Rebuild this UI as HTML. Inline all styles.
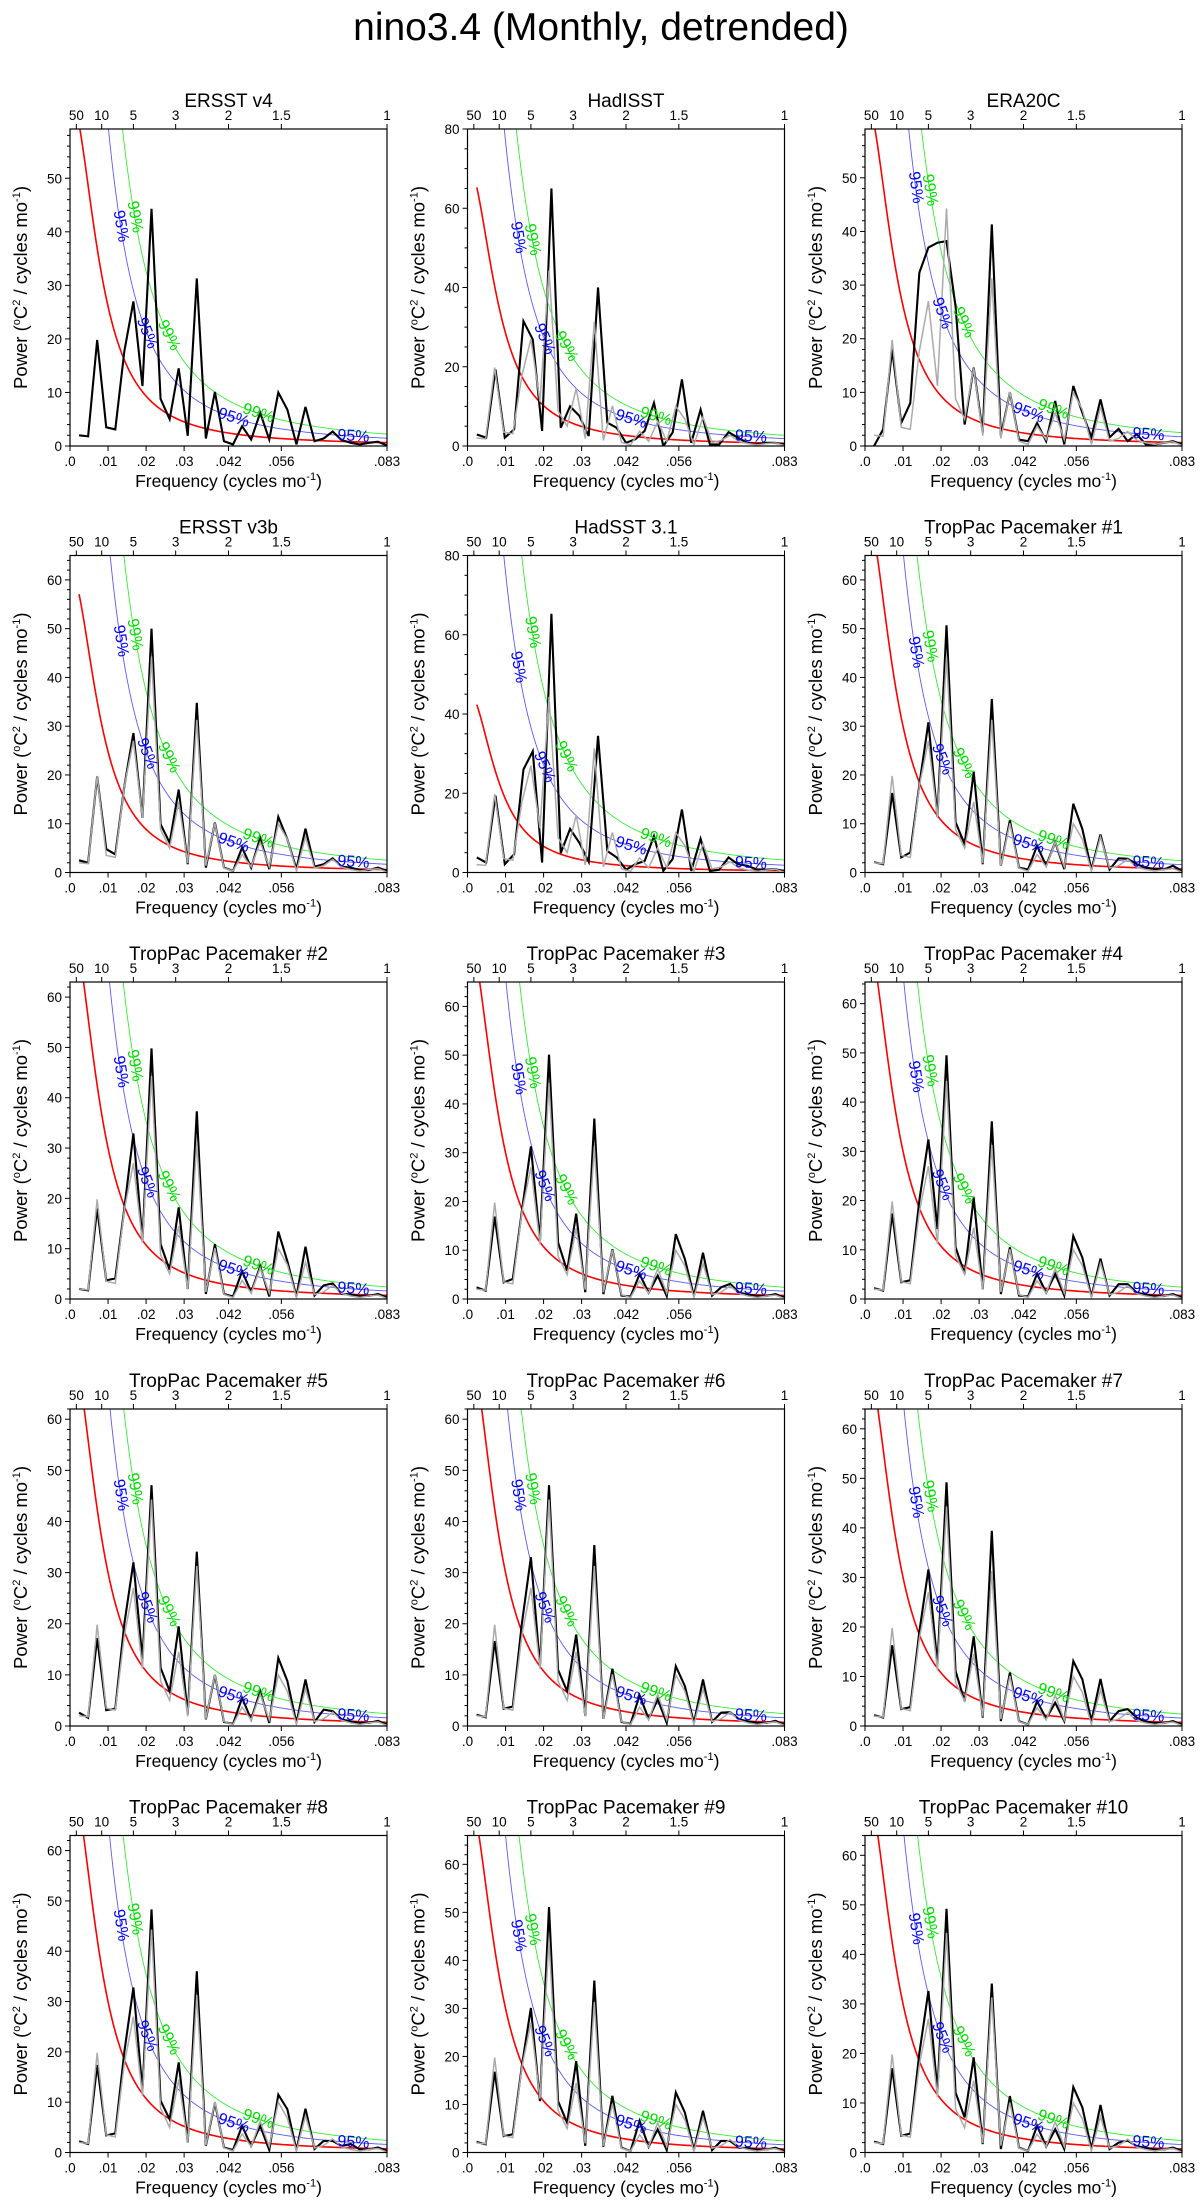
<!DOCTYPE html>
<html><head><meta charset="utf-8"><title>nino3.4 spectra</title>
<style>
html,body{margin:0;padding:0;background:#fff;}
svg{display:block;font-family:"Liberation Sans","DejaVu Sans",sans-serif;}
</style></head>
<body>
<svg id="chart" width="1202" height="2211" viewBox="0 0 1202 2211" xmlns="http://www.w3.org/2000/svg">
<rect width="1202" height="2211" fill="#fff"/>
<text x="601" y="40" text-anchor="middle" font-size="39">nino3.4 (Monthly, detrended)</text>
</svg>
<script>
const titles = ["ERSST v4","HadISST","ERA20C","ERSST v3b","HadSST 3.1","TropPac Pacemaker #1","TropPac Pacemaker #2","TropPac Pacemaker #3","TropPac Pacemaker #4","TropPac Pacemaker #5","TropPac Pacemaker #6","TropPac Pacemaker #7","TropPac Pacemaker #8","TropPac Pacemaker #9","TropPac Pacemaker #10"];
const yMaxes = [59.2,80,59.1,65,80,65,63,65,64.4,62,62,64,63,66,64];
const nPoints = [35,34,35,35,34,35,35,35,35,35,35,35,35,35,35];
const redFirst = [60,65.5,60,57,42.5,69,69,69,69,69,69,69,69,69,69];
const mult95 = [2.3,2.7,2.7,2.8,4.1,2.2,2.2,2.2,2.2,2.2,2.2,2.2,2.2,2.2,2.2];
const mult99 = [3.5,3.9,3.9,4.2,7.0,3.3,3.3,3.3,3.3,3.3,3.3,3.3,3.3,3.3,3.3];
const refSeries = [2.0,1.8,19.8,3.5,3.1,17.7,27,11.2,44.3,8.8,5,14.5,1.9,31.3,1.4,10.1,0.9,0.3,3.7,1.2,6.2,1.2,10,6.8,0.3,7.3,0.9,1.4,2.7,1.1,0.6,0.3,0.6,0.8,0.1];
const sErsstV4 = refSeries;
const sHadISST = [2.9,2.1,19.3,2.1,4.2,31.5,26.9,3.8,65,4.6,10,7.6,2.5,40,5.9,4.6,0.8,1.7,3.8,10.9,0,3.4,16.8,0.8,9.2,0.4,0.4,3.5,2.1,0.8,0.4,0.8,0.8,0.4];
const sEra20c = [0,3.1,18,4.3,8,32.3,37,37.9,38.2,26,4,14.6,2.5,41.3,1.9,10,1.2,0.9,4.3,0.9,8.4,0.3,11.2,6.2,1.6,8.7,1.6,3.2,0.9,2.2,0.3,0.3,0.6,0.9,0.3];
const sErsstV3b = [2.5,2.0,19.7,4.8,3.7,17.7,28.6,11.2,50,9.9,6.1,17,1.7,34.8,1.0,10.2,1,0.3,5.1,1,7.1,0.7,11.4,6.8,0.7,9,1.2,1.7,2.9,1.2,1,0.5,0.5,1,0.3];
const sHadSST = [3.8,2.5,19.4,2.1,4.6,26,30.6,2.5,65.3,4.9,11,7.5,2.7,34.5,5.4,3.8,0.7,2.1,2.9,9.2,0.4,3.4,15.9,0.4,8.5,0.4,0.7,3.8,2.1,1.7,0.8,0.7,0.8,0.4];
const sPM1 = [2.1,1.7,16.3,3.1,4.1,18,30.8,11.4,50.7,10.3,5.8,20.6,1.7,35.6,1.4,10.7,1,0.6,5.5,1.4,6.2,0.7,14.1,8.9,0.6,7.8,0.6,2.9,2.8,1.7,1,0.7,0.6,1.4,0.3];
const sPM2 = [2,1.7,18,3.7,4.1,18,32.9,11.6,49.8,10.9,5.8,18.2,2,37.3,1,10.9,1,0.5,5.5,1.4,6.5,0.5,13.4,7.5,0.5,10.4,0.7,2.7,3.1,1,0.9,0.6,0.6,1,0.3];
const sPM3 = [2.4,1.7,16.9,3.4,4.1,18,31.3,11.9,50.1,11.6,5.8,17.5,1.4,37,1,10.2,0.7,0.5,5.1,1.3,4.8,0.6,13.3,8.2,0.6,9.5,0.7,2.4,3.1,1.3,0.9,0.6,0.6,1,0.3];
const sPM4 = [2.2,1.7,17.4,3.4,3.8,20,32.4,14.2,49.5,10.5,5.1,20.6,2,36.1,1,10.5,0.7,0.5,5.1,1.3,5.1,0.7,12.8,8.4,0.5,8.2,0.7,3,3,1.3,0.9,0.6,0.6,1,0.3];
const sPM5 = [2.6,1.6,17.2,3.1,3.4,20,32,13,47.1,11.4,6.8,19.5,2.3,34.1,1.3,10,0.8,0.4,5.5,1.3,6.8,0.6,13.3,8.8,0.6,9.1,0.8,3.2,2.9,1.3,0.9,0.6,0.6,1,0.3];
const sPM6 = [2.2,1.7,16.6,3.4,3.8,20,33,11.7,47.1,11,6.8,17.9,2,35.4,1.4,11.2,0.8,0.4,6,1.4,5.2,0.6,11.7,7.8,0.6,9.1,0.8,2.6,2.7,1.3,0.9,0.6,0.6,1,0.3];
const sPM7 = [2.2,1.7,16.3,3.4,3.8,19,31.6,12.4,49.2,11.1,5,18.1,1.7,39.4,1,10.8,1,0.3,5,1.5,4.7,1,13.1,9.4,1,9.5,1,3,3.4,1.7,0.9,0.6,0.6,1,0.3];
const sPM8 = [2.2,1.7,17.4,3.4,3.8,20,32.8,12.3,48.3,10.3,6.6,17.9,2,36,1.3,9.9,1,0.5,5.3,1.3,5.3,0.5,11.5,8.6,0.5,8.7,0.7,2.3,2.3,1.3,1.7,0.6,0.6,1,0.3];
const sPM9 = [2.2,1.7,16.8,3.4,3.8,18,30.1,10.7,51.1,10.7,6.2,19,1.4,35.8,1.2,11.8,1,0.3,6.6,1.2,4.8,0.5,12.5,8.3,0.5,8.7,0.5,2.4,2.4,1,0.9,0.6,0.6,1,0.3];
const sPM10 = [2.2,1.7,17,3.4,3.8,20,32.6,12.4,49.2,12.1,7.1,19.2,1.7,34.1,0.7,11.4,1,0.3,5.4,1.2,4.7,0.7,13.2,9.1,0.7,9.6,0.7,2,2.4,1.3,0.9,0.6,0.6,1,0.3];
const seriesList = [sErsstV4,sHadISST,sEra20c,sErsstV3b,sHadSST,sPM1,sPM2,sPM3,sPM4,sPM5,sPM6,sPM7,sPM8,sPM9,sPM10];
const showRef = [false,true,true,true,true,true,true,true,true,true,true,true,true,true,true];
const xTickVals = [0,0.01,0.02,0.03,1/24,1/18,1/12];
const xTickLabels = [".0",".01",".02",".03",".042",".056",".083"];
const periodVals = [50,10,5,3,2,1.5,1];
const periodLabels = ["50","10","5","3","2","1.5","1"];
const label95Freqs = [0.0133,0.0202,0.043,0.0745];
const label99Freqs = [0.017,0.0259,0.0495];

const NS = "http://www.w3.org/2000/svg";
const svg = document.getElementById("chart");
const FMAX = 1/12, PW = 317, PH = 317;
const colX = [70,467.5,865];
const rowY = [129,555.5,982,1409,1835.5];
function mk(tag, attrs, parent){const e=document.createElementNS(NS,tag);for(const k in attrs)e.setAttribute(k,attrs[k]);(parent||svg).appendChild(e);return e;}
function D(f){return 0.0025+1.9*(1-Math.cos(2*Math.PI*f));}
function redNoise(f,rf){return rf*D(0.0024)/D(f);}

titles.forEach((title,i)=>{
  const x0 = colX[i%3], y0 = rowY[Math.floor(i/3)];
  const ymax = yMaxes[i];
  const xs = f => x0 + f/FMAX*PW;
  const ys = v => y0 + PH - v/ymax*PH;
  const g = mk("g",{});
  
  
  const clipId = "clip"+i;
  const cp = mk("clipPath",{id:clipId},g);
  mk("rect",{x:x0,y:y0,width:PW,height:PH},cp);
  const plot = mk("g",{"clip-path":"url(#"+clipId+")"},g);
  
  
  const N = nPoints[i], df = FMAX/N;
  const curveDefs = [[1,"#ff0000",1.6,"red-noise-curve"],[mult95[i],"#5a5aff",0.9,"conf-95-curve"],[mult99[i],"#33ee33",0.9,"conf-99-curve"]];
  curveDefs.forEach(cd=>{
    let d="";
    for(let j=0;j<=200;j++){const f=df+(FMAX-df)*j/200;const v=redNoise(f,redFirst[i])*cd[0];d+=(j?"L":"M")+xs(f).toFixed(2)+","+Math.max(ys(v),y0-50).toFixed(2);}
    const p = mk("path",{d:d,fill:"none",stroke:cd[1],"stroke-width":cd[2]},plot);
    
    
  });
  const data = seriesList[i];
  let d1=""; data.forEach((v,k)=>{d1+=(k?"L":"M")+xs((k+1)*df).toFixed(2)+","+ys(v).toFixed(2);});
  const pb = mk("path",{d:d1,fill:"none",stroke:"#000","stroke-width":2.1,"stroke-linejoin":"miter"},plot);
  
  
  if(showRef[i]){
    const dfr = FMAX/refSeries.length;
    let d2=""; refSeries.forEach((v,k)=>{d2+=(k?"L":"M")+xs((k+1)*dfr).toFixed(2)+","+ys(v).toFixed(2);});
    const pg = mk("path",{d:d2,fill:"none",stroke:"#ababab","stroke-width":1.5},plot);
    
    
  }
  function addLabel(f,m,txt,color){
    const v=redNoise(f,redFirst[i])*m; const px=xs(f), py=ys(v);
    if(py<y0+10) return;
    const px2=xs(f+0.0005), py2=ys(redNoise(f+0.0005,redFirst[i])*m);
    const ang=Math.atan2(py2-py,px2-px)*180/Math.PI;
    const t=mk("text",{x:px,y:py,"text-anchor":"middle","dominant-baseline":"central","font-size":16,fill:color,transform:"rotate("+ang.toFixed(1)+" "+px.toFixed(1)+" "+py.toFixed(1)+")"},plot);
    t.textContent=txt;
    
    
  }
  label95Freqs.forEach(f=>addLabel(f,mult95[i],"95%","#0000ff"));
  label99Freqs.forEach(f=>addLabel(f,mult99[i],"99%","#00dd00"));
  const fr = mk("rect",{x:x0,y:y0,width:PW,height:PH,fill:"none",stroke:"#000","stroke-width":1.2},g);
  
  
  const major = ymax>70?20:10, minor = ymax>70?5:2;
  for(let v=0; v<=ymax+1e-6; v+=minor){
    const isMaj = Math.abs(v/major-Math.round(v/major))<1e-6;
    mk("line",{x1:x0,x2:x0-(isMaj?5:3),y1:ys(v),y2:ys(v),stroke:"#000","stroke-width":1},g);
    if(isMaj){const t=mk("text",{x:x0-8,y:ys(v)+5,"text-anchor":"end","font-size":13.5},g);t.textContent=String(Math.round(v));
      
      }
  }
  xTickVals.forEach((f,k)=>{
    mk("line",{x1:xs(f),x2:xs(f),y1:y0+PH,y2:y0+PH+5,stroke:"#000","stroke-width":1},g);
    const t=mk("text",{x:xs(f),y:y0+PH+20,"text-anchor":"middle","font-size":13.5},g);t.textContent=xTickLabels[k];
    
    
  });
  periodVals.forEach((p,k)=>{
    const f=1/(12*p);
    mk("line",{x1:xs(f),x2:xs(f),y1:y0,y2:y0-5,stroke:"#000","stroke-width":1},g);
    const t=mk("text",{x:xs(f),y:y0-9,"text-anchor":"middle","font-size":13.5},g);t.textContent=periodLabels[k];
    
    
  });
  const tt=mk("text",{x:x0+PW/2,y:y0-22,"text-anchor":"middle","font-size":19},g);tt.textContent=title;
  
  
  const xt=mk("text",{x:x0+PW/2,y:y0+PH+41,"text-anchor":"middle","font-size":17.5},g);
  
  
  xt.innerHTML='Frequency (cycles mo<tspan dy="-7" font-size="11">-1</tspan><tspan dy="7">)</tspan>';
  const yx=x0-43, yy=y0+PH/2;
  const yt=mk("text",{x:yx,y:yy,"text-anchor":"middle","font-size":18.5,transform:"rotate(-90 "+yx+" "+yy+")"},g);
  
  
  yt.innerHTML='Power (<tspan dy="-7" font-size="11">o</tspan><tspan dy="7">C</tspan><tspan dy="-7" font-size="11">2</tspan><tspan dy="7"> / cycles mo</tspan><tspan dy="-7" font-size="11">-1</tspan><tspan dy="7">)</tspan>';
});
</script>
</body></html>
